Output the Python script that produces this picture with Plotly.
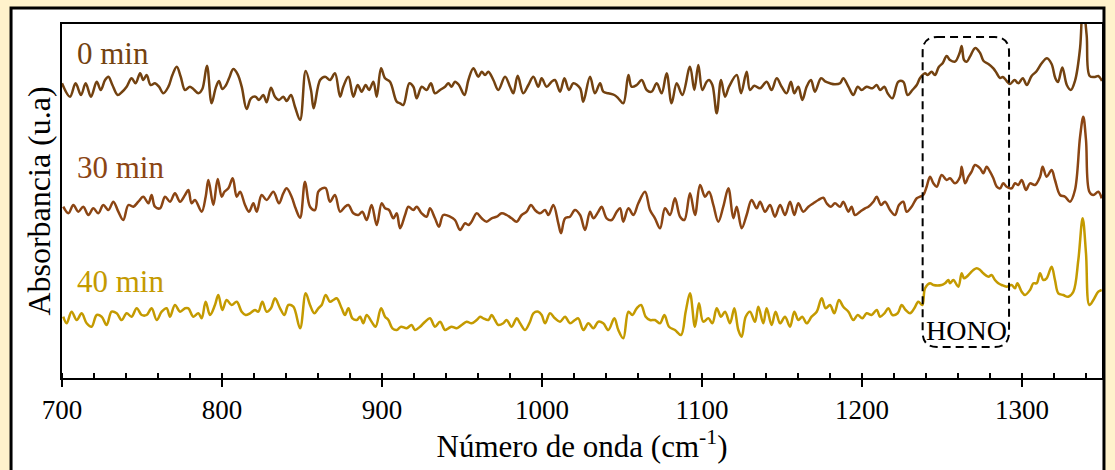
import plotly.graph_objects as go

# FTIR spectra (wavenumber in cm^-1, absorbance in arbitrary units, stacked)
wn_0 = [700.0, 705.0, 708.5, 711.9, 714.8, 718.1, 721.7, 724.2, 726.9, 729.0, 731.5, 734.8, 737.3, 740.4,
        743.5, 746.0, 748.8, 750.8, 752.9, 755.4, 758.1, 760.6, 763.3, 766.5, 769.0, 771.7, 774.2, 776.9,
        780.0, 782.7, 785.2, 787.7, 790.6, 793.5, 796.0, 798.1, 800.2, 802.3, 804.4, 807.1, 809.8, 812.3,
        815.4, 818.1, 821.0, 823.1, 825.8, 827.9, 830.6, 833.1, 835.6, 838.3, 840.4, 843.1, 845.6, 848.8,
        852.3, 855.6, 857.3, 861.3, 864.4, 867.5, 870.6, 873.8, 875.8, 879.0, 882.1, 884.8, 887.3, 889.8,
        891.9, 894.6, 896.7, 899.4, 901.9, 905.0, 909.2, 911.3, 913.3, 917.1, 919.6, 921.7, 924.8, 927.9,
        930.6, 933.1, 936.3, 939.4, 941.5, 943.5, 945.6, 948.1, 951.5, 954.0, 957.1, 960.2, 962.3, 964.4,
        966.5, 969.6, 972.7, 976.9, 980.0, 982.1, 984.8, 988.3, 991.5, 994.6, 997.7, 999.8, 1002.9, 1006.0,
        1008.1, 1011.3, 1014.0, 1016.9, 1019.6, 1023.8, 1025.8, 1030.0, 1033.1, 1036.3, 1038.3, 1041.5,
        1045.2, 1047.7, 1050.8, 1054.0, 1056.0, 1059.2, 1062.3, 1065.4, 1068.5, 1071.7, 1074.8, 1077.9,
        1081.0, 1084.2, 1087.7, 1092.5, 1095.2, 1097.7, 1100.2, 1102.9, 1104.4, 1106.5, 1109.2, 1111.9,
        1114.4, 1116.9, 1121.7, 1124.4, 1127.9, 1130.0, 1132.7, 1136.3, 1140.4, 1143.5, 1146.7, 1149.8,
        1152.9, 1155.6, 1157.7, 1160.2, 1162.7, 1165.4, 1168.1, 1170.6, 1174.4, 1177.3, 1180.0, 1183.1,
        1186.3, 1188.3, 1191.5, 1194.6, 1197.3, 1199.8, 1202.9, 1206.5, 1209.2, 1211.3, 1214.0, 1216.0,
        1219.0, 1222.7, 1225.8, 1228.5, 1231.5, 1234.2, 1236.3, 1239.4, 1241.0, 1243.5, 1245.6, 1248.0,
        1250.5, 1252.9, 1255.0, 1258.1, 1261.0, 1262.3, 1263.8, 1265.4, 1267.5, 1270.8, 1273.8, 1276.0,
        1279.0, 1282.1, 1284.2, 1286.3, 1288.0, 1290.4, 1292.5, 1295.4, 1297.7, 1300.5, 1303.0, 1306.0,
        1309.2, 1312.3, 1315.6, 1318.5, 1320.8, 1322.5, 1325.2, 1328.0, 1330.5, 1333.1, 1336.3, 1338.0,
        1340.4, 1342.3, 1345.6, 1347.7, 1350.0]
abs_0 = [294.7, 281.3, 294.7, 283.0, 294.7, 281.3, 296.3, 288.0, 298.0, 301.3, 293.0, 283.0, 285.7, 291.3,
         299.7, 294.7, 304.7, 298.0, 303.0, 293.0, 294.7, 291.3, 284.7, 291.3, 303.0, 311.3, 301.3, 288.0,
         291.3, 288.0, 284.7, 289.0, 312.3, 274.7, 289.7, 297.0, 289.0, 292.3, 299.7, 309.0, 303.7, 291.3,
         269.0, 279.7, 281.3, 278.0, 283.0, 275.7, 290.3, 281.3, 278.0, 281.3, 277.0, 283.0, 271.3, 258.0,
         307.0, 288.0, 269.7, 298.0, 301.3, 298.0, 304.7, 281.3, 291.3, 301.3, 281.3, 293.0, 286.3, 293.0,
         288.0, 296.3, 281.3, 309.7, 299.7, 296.3, 276.3, 274.7, 273.0, 294.7, 291.3, 279.7, 291.3, 288.0,
         294.7, 284.7, 288.0, 291.3, 294.7, 291.3, 296.3, 293.0, 283.0, 298.0, 309.7, 301.3, 306.3, 303.0,
         306.3, 298.0, 288.0, 301.3, 291.3, 284.7, 302.3, 284.7, 293.0, 301.3, 291.3, 299.7, 291.3, 296.3,
         298.0, 286.3, 299.7, 288.0, 294.7, 289.7, 276.3, 301.3, 284.7, 294.7, 286.3, 284.7,
         283.0, 279.7, 274.7, 303.0, 291.3, 293.0, 298.0, 288.0, 286.3, 294.7, 284.7, 304.7,
         274.7, 294.7, 283.0, 311.3, 288.0, 313.0, 288.0, 296.3, 298.0, 293.0, 264.7, 298.0,
         281.3, 291.3, 303.0, 284.7, 306.3, 288.0, 292.3, 289.7, 296.3, 288.0, 299.7, 291.3,
         284.7, 296.3, 284.7, 291.3, 278.0, 291.3, 298.0, 286.3, 299.7, 296.3, 294.7, 293.7,
         294.7, 299.7, 291.3, 283.0, 291.3, 288.0, 291.3, 289.7, 293.0, 288.0, 291.3, 284.7,
         279.7, 296.3, 296.3, 283.0, 288.0, 293.0, 300.0, 304.7, 303.0, 306.3, 303.0, 311.0,
         315.0, 322.0, 318.0, 316.3, 325.0, 332.0, 318.0, 316.3, 321.3, 330.0, 325.0, 317.0,
         314.0, 309.7, 304.7, 300.0, 301.0, 297.0, 294.0, 298.0, 294.7, 299.7, 293.0, 302.0,
         307.0, 314.7, 319.7, 314.0, 300.0, 296.0, 310.5, 293.0, 288.0, 297.0, 330.0, 375.0,
         343.0, 302.0, 301.0, 302.0, 297.0]

wn_30 = [700.8, 704.0, 707.1, 710.2, 713.3, 716.5, 719.6, 722.7, 725.8, 729.0, 732.1, 735.2, 738.3, 741.5,
         744.6, 747.7, 750.8, 754.0, 756.0, 758.1, 761.3, 764.4, 767.5, 770.6, 773.8, 776.9, 779.0, 781.0,
         783.1, 787.3, 789.8, 791.5, 794.6, 797.3, 799.8, 801.5, 804.0, 806.7, 809.2, 811.3, 814.4, 816.9,
         819.6, 821.7, 824.8, 827.9, 832.1, 835.6, 838.3, 840.4, 843.5, 846.0, 848.8, 851.9, 855.0, 858.1,
         860.2, 862.6, 864.8, 867.5, 870.6, 873.8, 876.9, 879.0, 882.1, 885.2, 887.7, 890.4, 893.5, 896.7,
         899.8, 901.9, 904.4, 907.1, 909.2, 911.3, 914.4, 916.5, 919.6, 921.7, 924.8, 927.9, 930.0, 933.1,
         935.6, 938.3, 942.5, 945.6, 948.8, 951.9, 954.0, 956.0, 959.2, 962.3, 965.4, 968.5, 971.7, 974.8,
         977.9, 981.0, 984.2, 987.3, 990.4, 993.1, 995.6, 998.8, 1001.9, 1004.0, 1007.1, 1010.2, 1011.9,
         1014.4, 1017.5, 1020.6, 1023.8, 1026.9, 1030.0, 1032.1, 1035.2, 1037.3, 1040.4, 1043.5, 1046.7,
         1048.8, 1050.8, 1054.0, 1057.1, 1060.2, 1064.4, 1067.5, 1070.6, 1073.8, 1076.9, 1080.0, 1083.1,
         1086.3, 1089.0, 1092.5, 1095.6, 1098.8, 1101.9, 1104.4, 1107.1, 1110.2, 1113.3, 1116.5, 1119.6,
         1121.7, 1124.8, 1127.9, 1131.0, 1134.2, 1136.3, 1139.4, 1142.5, 1145.6, 1148.8, 1151.9, 1155.0,
         1157.7, 1160.2, 1163.3, 1166.5, 1169.6, 1172.7, 1175.8, 1177.9, 1180.6, 1183.1, 1186.3, 1188.3,
         1191.5, 1193.5, 1195.6, 1198.8, 1201.9, 1204.0, 1207.1, 1209.2, 1211.9, 1214.4, 1217.5, 1220.6,
         1223.1, 1225.8, 1227.9, 1231.0, 1234.2, 1236.3, 1238.3, 1240.4, 1242.5, 1244.6, 1246.7, 1249.8,
         1252.9, 1255.0, 1258.1, 1261.3, 1262.3, 1264.4, 1266.5, 1268.5, 1270.6, 1273.8, 1275.8, 1277.9,
         1280.0, 1282.1, 1284.2, 1286.3, 1288.3, 1290.4, 1293.5, 1295.6, 1297.7, 1299.8, 1302.5, 1305.0,
         1308.1, 1311.3, 1312.9, 1315.4, 1318.5, 1320.6, 1323.8, 1326.9, 1330.0, 1333.1, 1336.3, 1338.3,
         1340.0, 1342.1, 1344.6, 1347.7, 1349.8]
abs_30 = [171.3, 164.7, 173.0, 166.3, 171.3, 163.0, 169.7, 164.7, 173.0, 168.0, 176.3, 166.3, 158.0, 173.0,
          171.3, 176.3, 181.3, 174.7, 183.0, 171.3, 169.7, 181.3, 176.3, 184.7, 176.3, 183.0, 188.0, 174.7,
          178.0, 166.3, 181.3, 198.0, 173.0, 199.0, 181.3, 186.3, 189.7, 199.7, 181.3, 186.3, 173.0, 166.3,
          174.7, 166.3, 183.0, 178.0, 186.3, 174.7, 184.7, 189.7, 181.3, 169.7, 160.3, 196.3, 171.3, 168.0,
          186.3, 189.7, 190.0, 176.3, 183.0, 166.3, 171.3, 173.0, 164.7, 163.0, 166.3, 158.0, 173.0, 153.0,
          174.7, 169.7, 168.0, 159.7, 164.7, 149.7, 163.0, 171.3, 168.0, 171.3, 164.7, 161.3, 169.7, 159.7,
          151.3, 163.0, 161.3, 158.0, 148.0, 154.7, 153.0, 156.3, 164.7, 159.7, 156.3, 159.7, 161.3, 164.7,
          163.0, 159.7, 156.3, 163.0, 166.3, 173.0, 168.0, 164.7, 168.0, 163.0, 173.0, 154.7, 144.7,
          159.7, 161.3, 168.0, 163.0, 148.0, 166.3, 159.7, 166.3, 171.3, 159.7, 158.0, 166.3,
          169.7, 156.3, 169.7, 163.0, 174.7, 186.3, 168.0, 159.7, 149.7, 169.7, 163.0, 179.7,
          161.3, 158.0, 184.7, 163.0, 193.0, 181.3, 186.3, 173.0, 156.3, 171.3, 189.7, 159.7,
          171.3, 149.7, 163.0, 178.0, 169.7, 176.3, 166.3, 173.0, 161.3, 173.0, 163.0, 176.3,
          163.0, 174.7, 166.3, 171.3, 174.7, 178.0, 180.3, 174.7, 171.3, 174.7, 171.3, 176.3,
          166.3, 171.3, 163.0, 166.3, 169.7, 171.3, 176.3, 181.3, 173.0, 176.3, 168.0, 163.0,
          173.0, 176.3, 166.3, 171.3, 179.7, 181.3, 183.0, 191.3, 201.3, 194.7, 191.3, 203.0,
          198.0, 199.7, 194.7, 201.3, 211.3, 194.7, 201.3, 206.3, 213.0, 209.7, 204.7, 211.3,
          206.3, 199.7, 191.3, 189.7, 194.7, 191.3, 189.7, 194.7, 193.0, 198.0, 188.0, 194.7,
          193.0, 201.3, 211.3, 201.3, 208.0, 198.0, 183.0, 181.3, 176.3, 188.0, 241.3, 261.3,
          238.0, 186.3, 183.0, 186.3, 179.7]

wn_40 = [700.8, 702.9, 706.0, 709.2, 712.3, 715.4, 718.5, 721.7, 724.8, 727.9, 731.0, 734.2, 737.3, 740.4,
         743.5, 746.7, 749.8, 752.9, 756.0, 759.2, 762.3, 765.4, 767.5, 770.6, 773.8, 776.9, 779.0, 782.1,
         785.2, 787.3, 789.8, 792.5, 795.6, 797.7, 800.2, 802.9, 806.0, 809.2, 812.3, 814.8, 817.5, 820.6,
         822.7, 825.2, 827.9, 830.6, 833.1, 836.3, 839.0, 841.5, 844.6, 848.8, 852.3, 855.0, 857.7, 860.2,
         862.3, 864.8, 867.5, 869.6, 871.7, 874.8, 876.9, 879.0, 881.5, 884.2, 886.3, 888.3, 890.4, 893.5,
         896.0, 899.4, 901.9, 904.0, 906.5, 909.2, 911.9, 915.4, 918.5, 920.6, 923.8, 926.9, 930.0, 933.1,
         936.3, 939.4, 941.5, 943.5, 946.7, 949.8, 952.9, 956.0, 959.2, 961.3, 963.3, 966.5, 968.5, 970.6,
         972.7, 975.8, 977.9, 981.0, 984.2, 986.3, 989.4, 992.5, 994.6, 997.7, 999.8, 1001.9, 1005.0,
         1008.1, 1011.3, 1014.4, 1017.5, 1020.6, 1022.7, 1025.8, 1029.0, 1032.1, 1035.2, 1038.3, 1041.5,
         1045.2, 1047.7, 1050.8, 1054.0, 1056.5, 1059.2, 1061.9, 1064.8, 1067.5, 1070.6, 1073.8, 1076.5,
         1079.4, 1083.1, 1086.9, 1089.8, 1092.5, 1095.6, 1098.1, 1100.8, 1104.0, 1106.5, 1109.2, 1111.9,
         1114.4, 1117.5, 1120.2, 1122.7, 1124.8, 1127.3, 1130.0, 1133.1, 1135.2, 1138.3, 1140.4, 1143.5,
         1146.0, 1148.8, 1151.9, 1155.0, 1157.7, 1160.2, 1162.7, 1165.4, 1168.5, 1171.7, 1174.8, 1177.3,
         1180.0, 1182.7, 1185.6, 1188.3, 1191.5, 1194.6, 1197.3, 1200.2, 1202.9, 1206.0, 1209.2, 1211.3,
         1214.0, 1216.5, 1219.0, 1222.3, 1224.8, 1227.3, 1230.0, 1232.7, 1235.2, 1237.7, 1239.4, 1242.5,
         1244.6, 1249.8, 1251.9, 1254.0, 1255.0, 1257.1, 1260.2, 1262.3, 1263.8, 1265.4, 1267.5, 1269.6,
         1271.7, 1273.8, 1275.8, 1279.0, 1281.0, 1283.1, 1285.2, 1287.3, 1290.4, 1293.5, 1295.6, 1297.1,
         1299.8, 1301.9, 1305.0, 1307.1, 1309.2, 1311.3, 1313.3, 1315.4, 1318.5, 1320.6, 1322.7, 1325.8,
         1328.9, 1332.1, 1335.2, 1337.9, 1340.0, 1342.1, 1344.6, 1347.7, 1349.8]
abs_40 = [61.3, 54.7, 66.3, 58.0, 64.7, 54.7, 51.3, 63.0, 61.3, 53.0, 66.3, 64.7, 58.0, 64.7,
          61.3, 69.7, 63.0, 63.0, 69.7, 58.0, 66.3, 69.7, 61.3, 73.0, 66.3, 69.7, 69.7, 61.3,
          64.7, 59.7, 76.3, 63.0, 73.0, 83.0, 68.0, 78.0, 73.0, 76.3, 66.3, 63.0, 64.7, 68.0,
          66.3, 76.3, 66.3, 69.7, 79.7, 69.7, 63.0, 73.0, 71.3, 49.7, 84.7, 73.0, 64.7, 69.7,
          73.0, 83.0, 76.3, 78.0, 79.7, 69.7, 63.0, 69.7, 59.7, 58.0, 61.3, 54.7, 63.0, 56.3,
          51.3, 69.7, 61.3, 58.0, 49.7, 48.0, 51.3, 49.7, 53.0, 48.0, 51.3, 56.3, 59.7, 51.3,
          56.3, 48.0, 49.7, 51.3, 49.7, 53.0, 56.3, 54.7, 58.0, 61.3, 59.7, 58.0, 63.0, 58.0,
          53.0, 54.7, 58.0, 51.3, 59.7, 54.7, 48.0, 56.3, 64.7, 66.3, 63.0, 54.7, 64.7,
          59.7, 56.3, 61.3, 54.7, 58.0, 59.7, 48.0, 54.7, 49.7, 56.3, 54.7, 48.0,
          59.7, 48.0, 39.7, 66.3, 63.0, 69.7, 73.0, 61.3, 58.0, 58.0, 54.7, 63.0,
          51.3, 48.0, 43.0, 66.3, 84.7, 51.3, 74.7, 56.3, 59.7, 54.7, 69.7, 61.3,
          66.3, 54.7, 69.7, 48.0, 41.3, 61.3, 66.3, 56.3, 71.3, 54.7, 69.7, 53.0,
          66.3, 54.7, 61.3, 51.3, 66.3, 58.0, 61.3, 54.7, 61.3, 66.3, 79.7, 69.7,
          73.0, 64.7, 78.0, 71.3, 66.3, 58.0, 63.0, 59.7, 64.7, 63.0, 68.0, 61.3,
          64.7, 69.7, 63.0, 64.7, 73.0, 68.0, 64.7, 69.7, 76.3, 73.0, 89.7, 94.7,
          93.0, 93.0, 94.7, 98.0, 94.7, 98.0, 91.3, 104.7, 99.7, 101.3, 104.7, 108.0,
          109.7, 108.0, 104.7, 101.3, 103.0, 98.0, 94.7, 93.0, 91.3, 93.0, 89.7, 94.7,
          86.3, 83.0, 88.0, 94.7, 94.7, 104.7, 98.0, 99.7, 111.3, 98.0, 84.7, 83.0,
          81.3, 86.3, 118.0, 159.7, 124.7, 73.0, 78.0, 86.3, 88.0]

series_names = ["0 min", "30 min", "40 min"]
series_colors = ["#734210", "#8B4513", "#C49A00"]
x_ticks = [700, 800, 900, 1000, 1100, 1200, 1300]

SERIF = "Liberation Serif"

fig = go.Figure()
for name, xs, ys, col in zip(series_names, [wn_0, wn_30, wn_40], [abs_0, abs_30, abs_40], series_colors):
    fig.add_trace(go.Scatter(x=xs, y=ys, mode="lines", name=name,
                             line=dict(color=col, width=2.5, shape="spline", smoothing=1.0),
                             showlegend=False, hoverinfo="skip"))

# series labels
label_y = [325, 211, 97]
for name, col, ly in zip(series_names, series_colors, label_y):
    fig.add_annotation(x=708.4, y=ly, xref="x", yref="y", text=name, showarrow=False,
                       xanchor="left", yanchor="middle",
                       font=dict(family=SERIF, size=31, color=col))

# dashed rounded box marking the HONO band
bx0, bx1, by0, by1 = 1237.9, 1291.9, 31, 341
rx, ry = 9, 15
box_path = (f"M {bx0+rx},{by1} L {bx1-rx},{by1} Q {bx1},{by1} {bx1},{by1-ry} "
            f"L {bx1},{by0+ry} Q {bx1},{by0} {bx1-rx},{by0} L {bx0+rx},{by0} "
            f"Q {bx0},{by0} {bx0},{by0+ry} L {bx0},{by1-ry} Q {bx0},{by1} {bx0+rx},{by1} Z")
fig.add_shape(type="path", path=box_path, xref="x", yref="y",
              line=dict(color="black", width=2, dash="8px,5px"))
fig.add_annotation(x=1265.6, y=48, xref="x", yref="y", text="HONO", showarrow=False,
                   xanchor="center", yanchor="middle",
                   font=dict(family=SERIF, size=28, color="black"))

# white panel with thick black frame behind the plot
fig.add_shape(type="rect", xref="paper", yref="paper",
              x0=-0.0490, x1=1.0019, y0=-0.28, y1=1.0452,
              line=dict(color="black", width=3), fillcolor="white", layer="below")

fig.update_layout(
    width=1115, height=470,
    margin=dict(l=62, r=13, t=24, b=92),
    paper_bgcolor="#FFF2CC", plot_bgcolor="white",
    font=dict(family=SERIF, color="black"),
    xaxis=dict(range=[700, 1350], tickvals=x_ticks, ticktext=[str(v) for v in x_ticks],
               ticks="outside", ticklen=7, tickwidth=2, tickcolor="black",
               minor=dict(ticks="inside", dtick=20, tick0=700, ticklen=5, tickwidth=1.5, tickcolor="black"),
               showline=True, linecolor="black", linewidth=2, mirror=True,
               showgrid=False, zeroline=False,
               tickfont=dict(family=SERIF, size=27, color="black"),
               title=dict(text="Número de onda (cm<sup>-1</sup>)", standoff=6,
                          font=dict(family=SERIF, size=31, color="black"))),
    xaxis2=dict(range=[700, 1350], overlaying="x", anchor="y", side="bottom",
                tickvals=x_ticks, ticks="inside", ticklen=5, tickwidth=2, tickcolor="black",
                showticklabels=False, showline=False, showgrid=False, zeroline=False),
    yaxis=dict(range=[0, 354], showticklabels=False, ticks="",
               showline=True, linecolor="black", linewidth=2, mirror=True,
               showgrid=False, zeroline=False,
               title=dict(text="Absorbancia (u.a)", standoff=0,
                          font=dict(family=SERIF, size=32, color="black"))),
)

fig.write_html("out.html")
